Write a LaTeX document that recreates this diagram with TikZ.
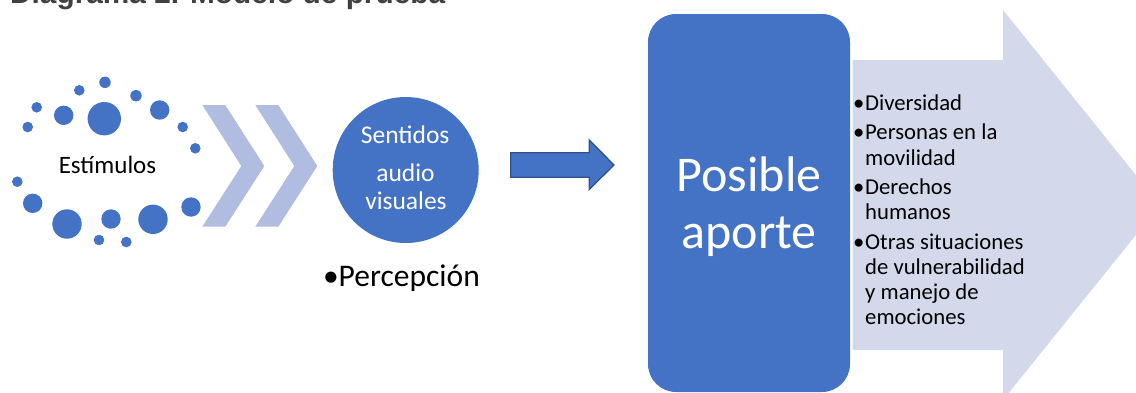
\documentclass[tikz,border=0pt]{standalone}
\usepackage{fontspec}
\setmainfont{Carlito}
\newfontfamily\titlefont{Liberation Sans}
\definecolor{accent}{HTML}{4472C4}
\definecolor{accentdark}{HTML}{2F528F}
\definecolor{chev}{HTML}{B0BCE0}
\definecolor{bigarrow}{HTML}{D3D9EB}
\definecolor{titlegray}{HTML}{404040}
\begin{document}
\begin{tikzpicture}[x=1pt,y=-1pt,
  txt/.style={inner sep=0pt, anchor=base},
  ltxt/.style={inner sep=0pt, anchor=base west},
  listfont/.style={font=\fontsize{22.7}{27}\selectfont},
  dotfill/.style={fill=accent}]
\useasboundingbox (0,0) rectangle (1136,392);
\clip (0,0) rectangle (1136,392);

% title (cut off at top)
\node[ltxt, text=titlegray, font=\titlefont\bfseries\fontsize{29.8}{34}\selectfont] (title) at (10,3) {Diagrama 2. Modelo de prueba};

% dots around Estimulos
\foreach \x/\y/\r in {105/82.3/5.7, 79.3/90.3/5.3, 136/95.7/5.7, 36.7/107.3/5.3,
  63.7/115.3/9.7, 104.3/118.7/16.7, 159.7/110/9.7, 27.7/127/5.3, 182.7/127/5.3,
  195.3/148.3/5.3, 17.3/181.7/5.3, 32.7/203.3/9.7, 67/224/14.7, 111/219/9.7,
  153/219.3/14.7, 191/207/9.7, 99/240/5.3, 126.3/242/5.3}
  \fill[dotfill] (\x,\y) circle[radius=\r pt];
\node[txt, font=\fontsize{25}{30}\selectfont] (estimulos) at (107.5,173.3) {Estímulos};

% chevrons
\foreach \dx/\name in {0/chevA, 53/chevB}{
  \fill[chev] (202.3+\dx,105) -- (225.3+\dx,105) -- (264.3+\dx,166) -- (225.3+\dx,226.7)
    -- (202.3+\dx,226.7) -- (241.3+\dx,166) -- cycle;
}

% circle Sentidos
\node[circle, fill=accent, minimum size=146pt, inner sep=0pt] (sentidos) at (405.7,170) {};
\node[txt, text=white, font=\fontsize{25.5}{30}\selectfont] (s1) at (405.2,143.3) {Sentidos};
\node[txt, text=white, font=\fontsize{25.5}{30}\selectfont] (s2) at (405.5,181.7) {audio};
\node[txt, text=white, font=\fontsize{25.5}{30}\selectfont] (s3) at (406,209.3) {visuales};

% Percepcion
\node[ltxt, font=\fontsize{31.5}{36}\selectfont] (percb) at (323,286.7) {•};
\node[ltxt, font=\fontsize{31.5}{36}\selectfont] (perc) at (338.5,286.7) {Percepción};

% blue arrow
\draw[fill=accent, draw=accentdark, line width=1.3pt, line join=miter]
  (510.7,152.7) -- (589.3,152.7) -- (589.3,140) -- (614,165) -- (589.3,189.3)
  -- (589.3,177.3) -- (510.7,177.3) -- cycle;

% big light arrow
\fill[bigarrow] (852.7,60) -- (1003,60) -- (1003,10) -- (1160,205) -- (1003,400)
  -- (1003,350) -- (852.7,350) -- cycle;

% Posible aporte box
\node[fill=accent, rounded corners=28pt, minimum width=202pt, minimum height=378pt,
  inner sep=0pt] (aporte) at (749,203) {};
\node[txt, text=white, font=\fontsize{50}{56}\selectfont] (p1) at (749,191.7) {Posible};
\node[txt, text=white, font=\fontsize{50}{56}\selectfont] (p2) at (749,248.3) {aporte};

% list
\foreach \y/\t/\n in {110.7/Diversidad/l1, 139.3/Personas en la/l2, 165/movilidad/l3,
  194/Derechos/l4, 219.3/humanos/l5, 249/Otras situaciones/l6,
  274/de vulnerabilidad/l7, 299/y manejo de/l8, 324.3/emociones/l9}
  \node[ltxt, listfont] (\n) at (865,\y) {\t};
\foreach \y/\n in {110.7/b1, 139.3/b2, 194/b3, 249/b4}
  \node[ltxt, listfont] (\n) at (853,\y) {•};
\end{tikzpicture}
\end{document}
